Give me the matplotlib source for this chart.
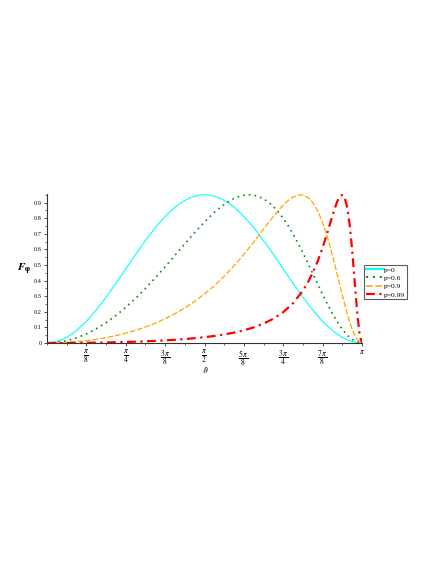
import numpy as np
import matplotlib
matplotlib.use("Agg")
import matplotlib.pyplot as plt
from matplotlib.ticker import MultipleLocator

# sample positions are given in units of pi/32
theta_p0 = [0, 0.5, 1, 1.5, 2, 2.5, 3, 4, 5, 6, 7, 8, 9, 10, 11, 11.5, 12, 12.5,
            13, 13.5, 14, 14.5, 15, 15.5, 16, 16.5, 17, 17.5, 18, 18.5, 19, 19.5,
            20, 20.5, 21, 22, 23, 24, 25, 26, 27, 27.5, 28, 28.5, 29, 29.5, 30,
            30.5, 31, 31.5, 32]
F_p0 = [0, 0.0023, 0.0091, 0.0205, 0.0362, 0.0561, 0.0801, 0.1391, 0.2111,
        0.2932, 0.3823, 0.4750, 0.5677, 0.6568, 0.7389, 0.7764, 0.8109, 0.8422,
        0.8699, 0.8939, 0.9138, 0.9295, 0.9409, 0.9477, 0.9500, 0.9477, 0.9409,
        0.9295, 0.9138, 0.8939, 0.8699, 0.8422, 0.8109, 0.7764, 0.7389, 0.6568,
        0.5677, 0.4750, 0.3823, 0.2932, 0.2111, 0.1737, 0.1391, 0.1078, 0.0801,
        0.0561, 0.0362, 0.0205, 0.0091, 0.0023, 0]

theta_p06 = [0, 1, 2, 3, 4, 5, 6, 7, 8, 9, 10, 11, 12, 13, 14, 15, 15.5, 16,
             16.5, 17, 17.5, 18, 18.5, 19, 19.5, 20, 20.5, 21, 21.5, 22, 22.5,
             23, 23.5, 24, 24.5, 25, 25.5, 26, 26.5, 27, 27.5, 28, 28.5, 29,
             29.5, 30, 30.5, 31, 31.5, 32]
F_p06 = [0, 0.0037, 0.0146, 0.0329, 0.0583, 0.0908, 0.1301, 0.1761, 0.2284,
         0.2865, 0.3498, 0.4175, 0.4885, 0.5617, 0.6353, 0.7074, 0.7421, 0.7755,
         0.8072, 0.8369, 0.8641, 0.8883, 0.9092, 0.9263, 0.9391, 0.9471, 0.9500,
         0.9473, 0.9386, 0.9236, 0.9022, 0.8741, 0.8394, 0.7983, 0.7510, 0.6980,
         0.6399, 0.5778, 0.5125, 0.4454, 0.3778, 0.3113, 0.2474, 0.1878, 0.1341,
         0.0878, 0.0503, 0.0227, 0.0057, 0]

theta_p09 = [0, 1, 2, 3, 4, 5, 6, 7, 8, 9, 10, 11, 12, 13, 14, 15, 16, 17, 18,
             19, 20, 21, 21.5, 22, 22.5, 23, 23.5, 24, 24.5, 25, 25.5, 26, 26.5,
             27, 27.5, 28, 28.5, 29, 29.5, 30, 30.5, 31, 31.5, 32]
F_p09 = [0, 0.0009, 0.0037, 0.0083, 0.0149, 0.0235, 0.0343, 0.0474, 0.0630,
         0.0813, 0.1026, 0.1272, 0.1555, 0.1878, 0.2247, 0.2666, 0.3141, 0.3676,
         0.4278, 0.4946, 0.5681, 0.6473, 0.6883, 0.7298, 0.7710, 0.8113, 0.8494,
         0.8840, 0.9135, 0.9356, 0.9482, 0.9484, 0.9333, 0.9002, 0.8468, 0.7719,
         0.6759, 0.5617, 0.4355, 0.3063, 0.1860, 0.0874, 0.0226, 0]

theta_p099 = [0, 1, 2, 3, 4, 5, 6, 7, 8, 9, 10, 11, 12, 13, 14, 15, 16, 17, 18,
              19, 20, 21, 22, 23, 24, 25, 26, 26.5, 27, 27.5, 28, 28.5, 29,
              29.25, 29.5, 29.75, 30, 30.25, 30.5, 30.75, 31, 31.25, 31.5,
              31.75, 32]
F_p099 = [0, 0.0001, 0.0004, 0.0008, 0.0015, 0.0024, 0.0035, 0.0049, 0.0065,
          0.0085, 0.0108, 0.0136, 0.0168, 0.0207, 0.0253, 0.0307, 0.0373,
          0.0452, 0.0548, 0.0666, 0.0814, 0.1001, 0.1242, 0.1556, 0.1978,
          0.2554, 0.3360, 0.3882, 0.4506, 0.5248, 0.6120, 0.7112, 0.8164,
          0.8662, 0.9094, 0.9399, 0.9498, 0.9291, 0.8672, 0.7559, 0.5952,
          0.3997, 0.2037, 0.0555, 0]

labels = ["p=0", "p=0.6", "p=0.9", "p=0.99"]
y_ticks = [0, 0.1, 0.2, 0.3, 0.4, 0.5, 0.6, 0.7, 0.8, 0.9]
y_ticklabels = ["0", "0.1", "0.2", "0.3", "0.4", "0.5", "0.6", "0.7", "0.8", "0.9"]
x_ticks_8ths = [1, 2, 3, 4, 5, 6, 7, 8]
x_ticklabels = [r"$\dfrac{\pi}{8}$", r"$\dfrac{\pi}{4}$", r"$\dfrac{3\,\pi}{8}$",
                r"$\dfrac{\pi}{2}$", r"$\dfrac{5\,\pi}{8}$", r"$\dfrac{3\,\pi}{4}$",
                r"$\dfrac{7\,\pi}{8}$", r"$\pi$"]

plt.rcParams["font.family"] = ["Liberation Serif", "DejaVu Serif"]
plt.rcParams["mathtext.fontset"] = "stix"

fig = plt.figure(figsize=(4.36, 5.64), dpi=100)
ax = fig.add_axes([47 / 436, 221 / 564, 315 / 436, 149 / 564])

styles = [
    dict(color="#00FFFF", lw=0.8, ls="-"),
    dict(color="#228B22", lw=1.25, ls=(0, (1, 2.3))),
    dict(color="#FFA500", lw=0.9, ls=(0, (4.5, 1.6))),
    dict(color="#FF0000", lw=1.6, ls=(0, (4, 2, 1, 2))),
]
series = [(theta_p0, F_p0), (theta_p06, F_p06), (theta_p09, F_p09),
          (theta_p099, F_p099)]
for (th, ys), lab, st in zip(series, labels, styles):
    ax.plot(np.pi * np.array(th) / 32.0, ys, label=lab, **st)

ax.set_xlim(0, np.pi)
ax.set_ylim(0, 0.955)
for s in ["top", "right"]:
    ax.spines[s].set_visible(False)
for s in ["left", "bottom"]:
    ax.spines[s].set_linewidth(0.8)
    ax.spines[s].set_color("#333333")

ax.set_xticks([np.pi * k / 8 for k in x_ticks_8ths])
ax.set_xticklabels(x_ticklabels, fontsize=5.5)
ax.xaxis.set_minor_locator(MultipleLocator(np.pi / 16))
ax.set_yticks(y_ticks)
ax.set_yticklabels(y_ticklabels, fontsize=4.5)
ax.yaxis.set_minor_locator(MultipleLocator(0.05))
ax.tick_params(axis="both", which="major", direction="out", length=2.2,
               width=0.6, pad=1.5, colors="#333333", labelcolor="black")
ax.tick_params(axis="both", which="minor", direction="out", length=1.4,
               width=0.5, colors="#333333")

fig.text(205 / 436, 1 - 370 / 564, r"$\vartheta$", fontsize=6.5,
         ha="center", va="center")
fig.text(24 / 436, 1 - 269 / 564, r"$\mathbfit{F}_{\mathbf{\varphi}}$",
         fontsize=8, ha="center", va="center")

handles, labs = ax.get_legend_handles_labels()
leg = fig.legend(handles, labs, loc="upper left",
                 bbox_to_anchor=(364 / 436, 1 - 265 / 564),
                 fontsize=5.4, frameon=True, fancybox=False,
                 borderpad=0.2, labelspacing=0.28, handlelength=2.4,
                 handletextpad=0.12, borderaxespad=0)
leg.get_frame().set_edgecolor("#333333")
leg.get_frame().set_linewidth(0.8)
for line, w in zip(leg.get_lines(), [1.5, 1.5, 1.1, 1.6]):
    line.set_linewidth(w)

fig.savefig("out.png", dpi=100)
